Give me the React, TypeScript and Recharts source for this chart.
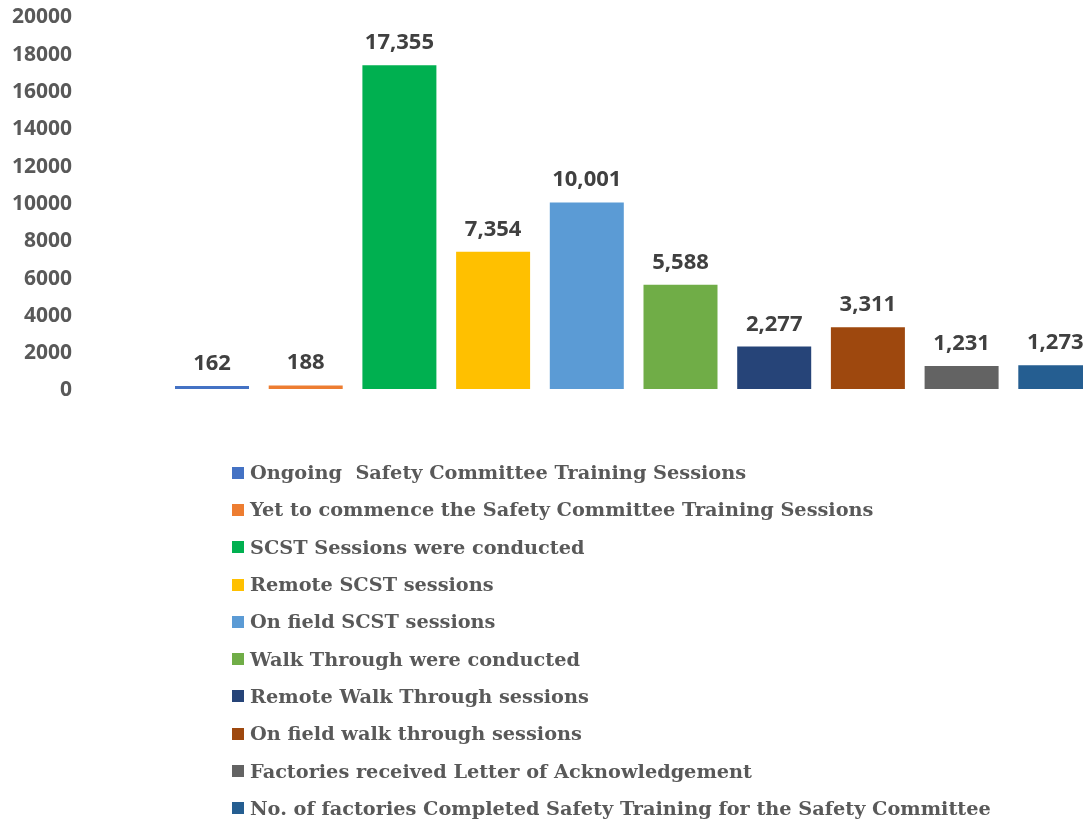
import { BarChart, Bar, XAxis, YAxis, Cell, LabelList, Legend } from 'recharts';

const categories = [
  'Ongoing  Safety Committee Training Sessions',
  'Yet to commence the Safety Committee Training Sessions',
  'SCST Sessions were conducted',
  'Remote SCST sessions',
  'On field SCST sessions',
  'Walk Through were conducted',
  'Remote Walk Through sessions',
  'On field walk through sessions',
  'Factories received Letter of Acknowledgement',
  'No. of factories Completed Safety Training for the Safety Committee',
];

const values = [162, 188, 17355, 7354, 10001, 5588, 2277, 3311, 1231, 1273];

const colors = [
  '#4472C4',
  '#ED7D31',
  '#00B050',
  '#FFC000',
  '#5B9BD5',
  '#70AD47',
  '#264478',
  '#9E480E',
  '#636363',
  '#255E91',
];

const yTicks = [0, 2000, 4000, 6000, 8000, 10000, 12000, 14000, 16000, 18000, 20000];

const data = categories.map((name, i) => ({ name, value: values[i] }));

const LegendList = () => (
  <div style={{ fontFamily: '"DejaVu Serif", serif', fontWeight: 'bold', color: '#595959' }}>
    {categories.map((c, i) => (
      <div key={c} style={{ display: 'flex', alignItems: 'center', height: 37.3 }}>
        <span style={{ display: 'inline-block', width: 12, height: 12, background: colors[i], marginRight: 6 }} />
        <span style={{ fontSize: 19.3, whiteSpace: 'pre' }}>{c}</span>
      </div>
    ))}
  </div>
);

export default function App(): JSX.Element {
  return (
    <div style={{ position: 'fixed', top: 8, left: 8, width: 1075, height: 817, overflow: 'hidden' }}>
      <BarChart
        width={1094}
        height={817}
        data={data}
        margin={{ top: 8, right: 0, left: 0, bottom: 436 }}
      >
        <XAxis dataKey="name" hide padding={{ left: 85, right: 0 }} />
        <YAxis
          width={72}
          domain={[0, 20000]}
          ticks={yTicks}
          axisLine={false}
          tickLine={false}
          interval={0}
          tick={{ fill: '#595959', fontSize: 21, fontWeight: 'bold', fontFamily: '"Open Sans", sans-serif' }}
        />
        <Legend
          layout="vertical"
          align="center"
          verticalAlign="middle"
          wrapperStyle={{ top: 446, left: 224, width: 860 }}
          content={() => <LegendList />}
        />
        <Bar dataKey="value" barSize={74} isAnimationActive={false}>
          {data.map((d, i) => (
            <Cell key={d.name} fill={colors[i]} />
          ))}
          <LabelList
            dataKey="value"
            position="top"
            offset={16}
            formatter={(v: number) => v.toLocaleString('en-US')}
            style={{ fill: '#404040', fontSize: 22, fontWeight: 'bold', fontFamily: '"Open Sans", sans-serif' }}
          />
        </Bar>
      </BarChart>
    </div>
  );
}
